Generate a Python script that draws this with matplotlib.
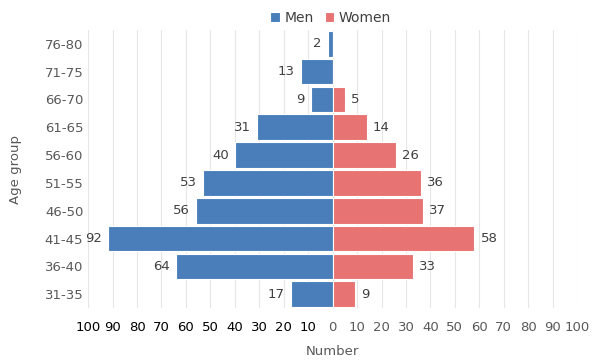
import matplotlib.pyplot as plt
import numpy as np

age_groups = ['31-35', '36-40', '41-45', '46-50', '51-55', '56-60', '61-65', '66-70', '71-75', '76-80']
men = [17, 64, 92, 56, 53, 40, 31, 9, 13, 2]
women = [9, 33, 58, 37, 36, 26, 14, 5, 0, 0]

blue = '#4a7ebb'
red = '#e87373'

fig = plt.figure(figsize=(6.12, 3.6), dpi=100)
ax = fig.add_axes([0.144, 0.144, 0.799, 0.773])

y = np.arange(len(age_groups))
ax.barh(y, [-m for m in men], height=0.92, color=blue, edgecolor='white', linewidth=0.8, label='Men', zorder=3)
ax.barh(y, women, height=0.92, color=red, edgecolor='white', linewidth=0.8, label='Women', zorder=3)

# data labels
for i in range(len(age_groups)):
    if men[i] > 0:
        ax.text(-men[i] - 2.5, y[i], str(men[i]), ha='right', va='center', fontsize=9.5, color='#404040')
    if women[i] > 0:
        ax.text(women[i] + 2.5, y[i], str(women[i]), ha='left', va='center', fontsize=9.5, color='#404040')

ax.set_xlim(-100, 100)
ax.set_ylim(-0.5, len(age_groups) - 0.5)
ticks = np.arange(-100, 101, 10)
ax.set_xticks(ticks)
ax.set_xticklabels([str(abs(t)) for t in ticks])
for lab, t in zip(ax.get_xticklabels(), ticks):
    lab.set_color('#000000' if t < 0 else '#595959')
ax.set_yticks(y)
ax.set_yticklabels(age_groups, color='#595959')
ax.tick_params(axis='both', length=0, labelsize=9.5)
ax.tick_params(axis='x', pad=9)

ax.grid(axis='x', color='#e6e6e6', linewidth=0.8, zorder=0)
for s in ax.spines.values():
    s.set_visible(False)

ax.set_xlabel('Number', fontsize=9.5, color='#595959', labelpad=8)
ax.set_ylabel('Age group', fontsize=9.5, color='#595959', labelpad=16)

fig.legend(loc='upper center', bbox_to_anchor=(0.54, 1.005), ncol=2, frameon=False,
           fontsize=10, handlelength=0.7, handleheight=0.7, handletextpad=0.3,
           columnspacing=0.8, labelcolor='#404040')

fig.savefig('out.png', dpi=100)
